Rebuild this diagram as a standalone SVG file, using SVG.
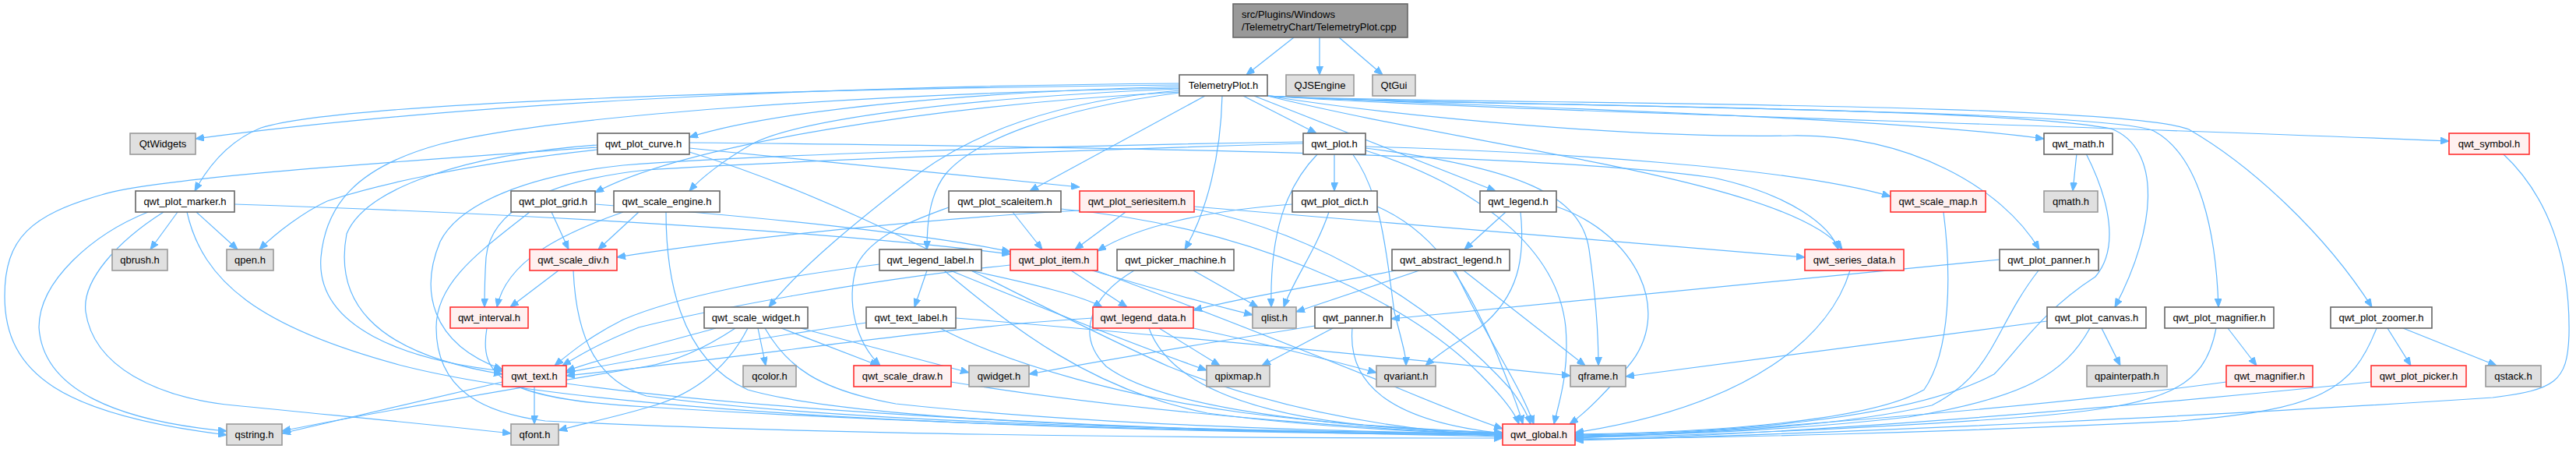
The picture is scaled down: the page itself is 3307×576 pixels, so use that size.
<svg xmlns="http://www.w3.org/2000/svg" width="3307" height="576" viewBox="0 0 3307 576">
<style>
.n{fill:#ffffff;stroke:#666666;stroke-width:1.6}
.x{fill:#e0e0e0;stroke:#999999;stroke-width:1.6}
.r{fill:#fff0f0;stroke:#ff3030;stroke-width:1.6}
.root{fill:#999999;stroke:#666666;stroke-width:1.6}
text{font-family:"Liberation Sans",Arial,Helvetica,sans-serif;font-size:13px;fill:#000000;text-anchor:middle}
text.l{text-anchor:start}
.e{fill:none;stroke:#63b8ff;stroke-width:1.2;marker-end:url(#arr)}
</style>
<defs>
<marker id="arr" markerWidth="11" markerHeight="9" refX="11" refY="4.5" orient="auto" markerUnits="userSpaceOnUse"><path d="M0,0 L11,4.5 L0,9 z" fill="#63b8ff" stroke="#63b8ff" stroke-width="1"/></marker>
</defs>
<rect width="3307" height="576" fill="#ffffff"/>
<g id="edges">
<path class="e" d="M1661,48 L1600,96"/>
<path class="e" d="M1694,48 L1694,96"/>
<path class="e" d="M1719,48 L1775,96"/>
<path class="e" d="M1514,107 C1150,110 650,125 251,178"/>
<path class="e" d="M1514,109 C900,116 430,134 335,164 C295,180 268,212 250,245"/>
<path class="e" d="M1514,111 C1250,118 1000,140 885,176"/>
<path class="e" d="M1514,118 C1200,135 880,185 764,247"/>
<path class="e" d="M1514,114 C1180,128 1010,160 965,185 C930,205 900,228 885,245"/>
<path class="e" d="M1514,113 C1100,120 700,150 565,185 C455,215 418,265 412,330 C405,420 520,462 645,476"/>
<path class="e" d="M1547,123 L1322,245"/>
<path class="e" d="M1514,116 C1350,130 1250,172 1180,222 C1105,280 1030,340 987,394"/>
<path class="e" d="M1514,119 C1350,140 1250,182 1215,222 C1192,250 1190,290 1190,320"/>
<path class="e" d="M1569,123 C1567,200 1550,270 1521,320"/>
<path class="e" d="M1596,123 L1690,171"/>
<path class="e" d="M1610,123 L1920,245"/>
<path class="e" d="M1627,123 C1800,150 2100,178 2300,174 C2450,172 2570,240 2618,320"/>
<path class="e" d="M1627,123 C1900,137 2400,148 2624,178"/>
<path class="e" d="M1627,123 C1900,142 2600,158 3144,181"/>
<path class="e" d="M1627,123 C1800,136 2550,134 2710,165 C2775,190 2770,290 2715,394"/>
<path class="e" d="M1627,123 C1800,135 2700,138 2765,168 C2825,200 2845,300 2848,394"/>
<path class="e" d="M1627,123 C1800,134 2710,128 2810,166 C2890,212 2985,300 3045,394"/>
<path class="e" d="M1627,123 C1900,190 2300,232 2365,320"/>
<path class="e" d="M885,190 L1386,240"/>
<path class="e" d="M767,192 C600,210 480,238 420,258 C390,272 355,298 333,320"/>
<path class="e" d="M767,189 C500,208 200,228 130,250 C40,276 6,305 6,380 C6,480 80,532 291,558"/>
<path class="e" d="M767,186 C600,198 470,240 445,300 C430,380 470,452 645,480"/>
<path class="e" d="M885,183 C1400,188 2000,198 2200,228 C2300,250 2350,290 2360,320"/>
<path class="e" d="M885,195 C1100,260 1300,380 1500,470 C1650,530 1800,552 1929,560"/>
<path class="e" d="M228,272 L193,320"/>
<path class="e" d="M252,272 L305,320"/>
<path class="e" d="M190,272 C120,300 50,360 50,420 C55,500 150,540 291,553"/>
<path class="e" d="M210,272 C150,310 105,360 110,400 C120,470 200,510 300,520 C450,535 560,545 656,556"/>
<path class="e" d="M240,272 C260,360 330,420 520,470 C800,540 1500,555 1929,558"/>
<path class="e" d="M301,262 C700,275 1100,300 1297,326"/>
<path class="e" d="M708,272 L730,320"/>
<path class="e" d="M764,262 C1000,280 1200,302 1297,323"/>
<path class="e" d="M680,272 C620,320 560,360 560,420 C560,500 620,530 700,540 C1100,560 1600,562 1929,562"/>
<path class="e" d="M820,272 L768,320"/>
<path class="e" d="M800,272 C720,300 650,335 638,394"/>
<path class="e" d="M855,272 C855,350 870,460 960,500 C1100,540 1500,552 1929,560"/>
<path class="e" d="M1300,272 L1338,320"/>
<path class="e" d="M1218,266 C1180,280 1120,300 1100,340 C1085,390 1100,440 1130,469"/>
<path class="e" d="M1362,268 C1600,290 1800,380 1900,480 C1930,510 1945,530 1950,544"/>
<path class="e" d="M1445,272 L1380,320"/>
<path class="e" d="M1386,270 C1200,280 950,305 792,330"/>
<path class="e" d="M1533,265 L2317,330"/>
<path class="e" d="M1533,268 C1700,300 1850,400 1940,500 C1955,520 1962,535 1965,544"/>
<path class="e" d="M1713,197 L1713,245"/>
<path class="e" d="M1692,197 C1650,240 1630,300 1632,394"/>
<path class="e" d="M1736,197 C1775,250 1780,330 1790,400 C1800,440 1805,455 1805,469"/>
<path class="e" d="M1753,190 C1950,215 2030,250 2040,320 C2050,390 2052,440 2052,469"/>
<path class="e" d="M1753,188 C2000,195 2300,215 2427,252"/>
<path class="e" d="M1673,182 C1300,188 950,200 800,212 C680,225 590,260 565,310 C540,370 550,440 645,474"/>
<path class="e" d="M1673,184 C1300,195 950,210 830,218 C700,232 630,270 624,330 C622,360 622,380 622,394"/>
<path class="e" d="M1753,193 C1900,240 2000,320 2010,420 C2015,480 2000,520 1995,544"/>
<path class="e" d="M1659,262 C1550,270 1460,290 1409,322"/>
<path class="e" d="M1706,272 C1690,320 1660,360 1648,394"/>
<path class="e" d="M1768,265 C1850,300 1890,380 1920,450 C1940,500 1950,525 1955,544"/>
<path class="e" d="M1933,272 L1880,320"/>
<path class="e" d="M1952,272 C1958,330 1950,380 1900,420 C1860,445 1840,460 1830,469"/>
<path class="e" d="M1998,265 C2100,300 2150,400 2090,470 C2060,505 2035,530 2015,544"/>
<path class="e" d="M1792,347 C1700,365 1600,380 1532,398"/>
<path class="e" d="M1822,347 L1664,400"/>
<path class="e" d="M1868,347 C1900,420 1950,490 1969,544"/>
<path class="e" d="M1879,347 L2035,469"/>
<path class="e" d="M2375,347 C2350,430 2250,520 2022,555"/>
<path class="e" d="M2495,272 C2505,350 2505,450 2470,500 C2400,540 2200,555 2022,557"/>
<path class="e" d="M2666,197 L2661,245"/>
<path class="e" d="M2678,197 C2710,260 2720,320 2690,355 C2620,400 2590,450 2560,480 C2450,540 2200,556 2022,558"/>
<path class="e" d="M2567,333 L1786,409"/>
<path class="e" d="M2617,347 C2560,420 2560,480 2480,520 C2350,550 2150,558 2022,559"/>
<path class="e" d="M1688,418 C1550,440 1400,465 1321,480"/>
<path class="e" d="M1711,421 L1620,469"/>
<path class="e" d="M1736,421 C1730,490 1780,540 1929,556"/>
<path class="e" d="M2628,412 L2087,483"/>
<path class="e" d="M2698,421 L2722,469"/>
<path class="e" d="M2683,421 C2650,480 2600,510 2450,535 C2300,552 2150,558 2022,560"/>
<path class="e" d="M2860,421 L2897,469"/>
<path class="e" d="M2845,421 C2830,500 2780,520 2600,535 C2400,550 2150,560 2022,561"/>
<path class="e" d="M2858,490 C2600,525 2200,555 2022,562"/>
<path class="e" d="M3065,421 L3095,469"/>
<path class="e" d="M3085,421 L3205,469"/>
<path class="e" d="M3051,421 C3020,500 2980,525 2800,540 C2500,555 2200,562 2022,563"/>
<path class="e" d="M3044,490 C2700,525 2300,558 2022,564"/>
<path class="e" d="M3213,197 C3270,250 3300,330 3298,430 C3296,490 3280,500 3200,510 C2900,530 2400,555 2022,565"/>
<path class="e" d="M717,347 L655,394"/>
<path class="e" d="M736,347 C740,440 770,490 830,508 C1100,545 1600,553 1929,556"/>
<path class="e" d="M625,421 C615,480 640,512 830,522 C1200,545 1600,555 1929,557"/>
<path class="e" d="M686,496 L686,544"/>
<path class="e" d="M645,490 L362,556"/>
<path class="e" d="M727,492 C1000,530 1500,555 1929,558"/>
<path class="e" d="M919,421 C850,440 770,460 727,476"/>
<path class="e" d="M944,421 C900,450 860,465 830,470 C650,500 450,535 362,553"/>
<path class="e" d="M960,421 C930,480 880,510 830,523 C790,535 750,543 717,552"/>
<path class="e" d="M973,421 L983,469"/>
<path class="e" d="M982,421 C1010,470 1050,500 1150,518 C1400,545 1700,553 1929,557"/>
<path class="e" d="M1003,421 L1128,469"/>
<path class="e" d="M1028,421 L1244,478"/>
<path class="e" d="M1221,490 C1500,535 1800,552 1929,558"/>
<path class="e" d="M1129,339 C1000,355 870,380 800,410 C760,430 735,450 712,469"/>
<path class="e" d="M1190,347 L1174,394"/>
<path class="e" d="M1212,347 C1300,420 1400,500 1550,530 C1700,550 1850,555 1929,556"/>
<path class="e" d="M1220,347 C1350,400 1450,440 1549,475"/>
<path class="e" d="M1245,347 C1330,365 1390,380 1415,394"/>
<path class="e" d="M1112,414 C1000,430 850,455 727,478"/>
<path class="e" d="M1227,408 C1500,430 1800,460 2016,482"/>
<path class="e" d="M1207,421 C1300,470 1450,510 1600,530 C1750,548 1850,553 1929,556"/>
<path class="e" d="M1403,408 C1200,420 950,460 727,482"/>
<path class="e" d="M1475,421 C1500,490 1600,530 1750,545 C1850,552 1900,555 1929,555"/>
<path class="e" d="M1488,421 L1566,469"/>
<path class="e" d="M1532,421 C1620,440 1700,460 1767,478"/>
<path class="e" d="M1297,340 C1100,360 900,400 820,420 C770,440 745,455 722,469"/>
<path class="e" d="M1375,347 L1447,394"/>
<path class="e" d="M1402,347 C1480,370 1550,390 1608,404"/>
<path class="e" d="M1407,347 C1550,400 1700,460 1800,500 C1860,525 1900,540 1929,550"/>
<path class="e" d="M1532,347 L1615,394"/>
<path class="e" d="M1456,347 C1400,380 1380,430 1420,470 C1500,530 1750,550 1929,555"/>
</g>
<g id="n_cpp"><rect class="root" x="1583" y="5" width="224" height="43"/><text class="l" x="1594" y="23">src/Plugins/Windows</text><text class="l" x="1594" y="39">/TelemetryChart/TelemetryPlot.cpp</text></g>
<g id="n_TelemetryPlot_h"><rect class="n" x="1514" y="96" width="113" height="27"/><text x="1570.5" y="114">TelemetryPlot.h</text></g>
<g id="n_QJSEngine"><rect class="x" x="1651" y="96" width="87" height="27"/><text x="1694.5" y="114">QJSEngine</text></g>
<g id="n_QtGui"><rect class="x" x="1762" y="96" width="55" height="27"/><text x="1789.5" y="114">QtGui</text></g>
<g id="n_QtWidgets"><rect class="x" x="167" y="171" width="84" height="27"/><text x="209" y="189">QtWidgets</text></g>
<g id="n_qwt_plot_curve_h"><rect class="n" x="767" y="171" width="118" height="27"/><text x="826" y="189">qwt_plot_curve.h</text></g>
<g id="n_qwt_plot_h"><rect class="n" x="1673" y="171" width="80" height="27"/><text x="1713" y="189">qwt_plot.h</text></g>
<g id="n_qwt_math_h"><rect class="n" x="2624" y="171" width="88" height="27"/><text x="2668" y="189">qwt_math.h</text></g>
<g id="n_qwt_symbol_h"><rect class="r" x="3144" y="171" width="103" height="27"/><text x="3195.5" y="189">qwt_symbol.h</text></g>
<g id="n_qwt_plot_marker_h"><rect class="n" x="174" y="245" width="127" height="27"/><text x="237.5" y="263">qwt_plot_marker.h</text></g>
<g id="n_qwt_plot_grid_h"><rect class="n" x="656" y="245" width="108" height="27"/><text x="710" y="263">qwt_plot_grid.h</text></g>
<g id="n_qwt_scale_engine_h"><rect class="n" x="788" y="245" width="136" height="27"/><text x="856" y="263">qwt_scale_engine.h</text></g>
<g id="n_qwt_plot_scaleitem_h"><rect class="n" x="1218" y="245" width="144" height="27"/><text x="1290" y="263">qwt_plot_scaleitem.h</text></g>
<g id="n_qwt_plot_seriesitem_h"><rect class="r" x="1386" y="245" width="147" height="27"/><text x="1459.5" y="263">qwt_plot_seriesitem.h</text></g>
<g id="n_qwt_plot_dict_h"><rect class="n" x="1659" y="245" width="109" height="27"/><text x="1713.5" y="263">qwt_plot_dict.h</text></g>
<g id="n_qwt_legend_h"><rect class="n" x="1900" y="245" width="98" height="27"/><text x="1949" y="263">qwt_legend.h</text></g>
<g id="n_qwt_scale_map_h"><rect class="r" x="2427" y="245" width="122" height="27"/><text x="2488" y="263">qwt_scale_map.h</text></g>
<g id="n_qmath_h"><rect class="x" x="2624" y="245" width="69" height="27"/><text x="2658.5" y="263">qmath.h</text></g>
<g id="n_qbrush_h"><rect class="x" x="144" y="320" width="71" height="27"/><text x="179.5" y="338">qbrush.h</text></g>
<g id="n_qpen_h"><rect class="x" x="291" y="320" width="60" height="27"/><text x="321" y="338">qpen.h</text></g>
<g id="n_qwt_scale_div_h"><rect class="r" x="680" y="320" width="112" height="27"/><text x="736" y="338">qwt_scale_div.h</text></g>
<g id="n_qwt_legend_label_h"><rect class="n" x="1129" y="320" width="131" height="27"/><text x="1194.5" y="338">qwt_legend_label.h</text></g>
<g id="n_qwt_plot_item_h"><rect class="r" x="1297" y="320" width="112" height="27"/><text x="1353" y="338">qwt_plot_item.h</text></g>
<g id="n_qwt_picker_machine_h"><rect class="n" x="1434" y="320" width="150" height="27"/><text x="1509" y="338">qwt_picker_machine.h</text></g>
<g id="n_qwt_abstract_legend_h"><rect class="n" x="1787" y="320" width="151" height="27"/><text x="1862.5" y="338">qwt_abstract_legend.h</text></g>
<g id="n_qwt_series_data_h"><rect class="r" x="2317" y="320" width="127" height="27"/><text x="2380.5" y="338">qwt_series_data.h</text></g>
<g id="n_qwt_plot_panner_h"><rect class="n" x="2567" y="320" width="127" height="27"/><text x="2630.5" y="338">qwt_plot_panner.h</text></g>
<g id="n_qwt_interval_h"><rect class="r" x="578" y="394" width="100" height="27"/><text x="628" y="412">qwt_interval.h</text></g>
<g id="n_qwt_scale_widget_h"><rect class="n" x="904" y="394" width="133" height="27"/><text x="970.5" y="412">qwt_scale_widget.h</text></g>
<g id="n_qwt_text_label_h"><rect class="n" x="1112" y="394" width="115" height="27"/><text x="1169.5" y="412">qwt_text_label.h</text></g>
<g id="n_qwt_legend_data_h"><rect class="r" x="1403" y="394" width="129" height="27"/><text x="1467.5" y="412">qwt_legend_data.h</text></g>
<g id="n_qlist_h"><rect class="x" x="1608" y="394" width="56" height="27"/><text x="1636" y="412">qlist.h</text></g>
<g id="n_qwt_panner_h"><rect class="n" x="1688" y="394" width="98" height="27"/><text x="1737" y="412">qwt_panner.h</text></g>
<g id="n_qwt_plot_canvas_h"><rect class="n" x="2628" y="394" width="127" height="27"/><text x="2691.5" y="412">qwt_plot_canvas.h</text></g>
<g id="n_qwt_plot_magnifier_h"><rect class="n" x="2779" y="394" width="140" height="27"/><text x="2849" y="412">qwt_plot_magnifier.h</text></g>
<g id="n_qwt_plot_zoomer_h"><rect class="n" x="2992" y="394" width="130" height="27"/><text x="3057" y="412">qwt_plot_zoomer.h</text></g>
<g id="n_qwt_text_h"><rect class="r" x="645" y="469" width="82" height="27"/><text x="686" y="487">qwt_text.h</text></g>
<g id="n_qcolor_h"><rect class="x" x="954" y="469" width="68" height="27"/><text x="988" y="487">qcolor.h</text></g>
<g id="n_qwt_scale_draw_h"><rect class="r" x="1096" y="469" width="125" height="27"/><text x="1158.5" y="487">qwt_scale_draw.h</text></g>
<g id="n_qwidget_h"><rect class="x" x="1244" y="469" width="77" height="27"/><text x="1282.5" y="487">qwidget.h</text></g>
<g id="n_qpixmap_h"><rect class="x" x="1549" y="469" width="81" height="27"/><text x="1589.5" y="487">qpixmap.h</text></g>
<g id="n_qvariant_h"><rect class="x" x="1767" y="469" width="76" height="27"/><text x="1805" y="487">qvariant.h</text></g>
<g id="n_qframe_h"><rect class="x" x="2016" y="469" width="71" height="27"/><text x="2051.5" y="487">qframe.h</text></g>
<g id="n_qpainterpath_h"><rect class="x" x="2679" y="469" width="103" height="27"/><text x="2730.5" y="487">qpainterpath.h</text></g>
<g id="n_qwt_magnifier_h"><rect class="r" x="2858" y="469" width="111" height="27"/><text x="2913.5" y="487">qwt_magnifier.h</text></g>
<g id="n_qwt_plot_picker_h"><rect class="r" x="3044" y="469" width="122" height="27"/><text x="3105" y="487">qwt_plot_picker.h</text></g>
<g id="n_qstack_h"><rect class="x" x="3191" y="469" width="71" height="27"/><text x="3226.5" y="487">qstack.h</text></g>
<g id="n_qstring_h"><rect class="x" x="291" y="544" width="71" height="27"/><text x="326.5" y="562">qstring.h</text></g>
<g id="n_qfont_h"><rect class="x" x="656" y="544" width="61" height="27"/><text x="686.5" y="562">qfont.h</text></g>
<g id="n_qwt_global_h"><rect class="r" x="1929" y="544" width="93" height="27"/><text x="1975.5" y="562">qwt_global.h</text></g>
</svg>
